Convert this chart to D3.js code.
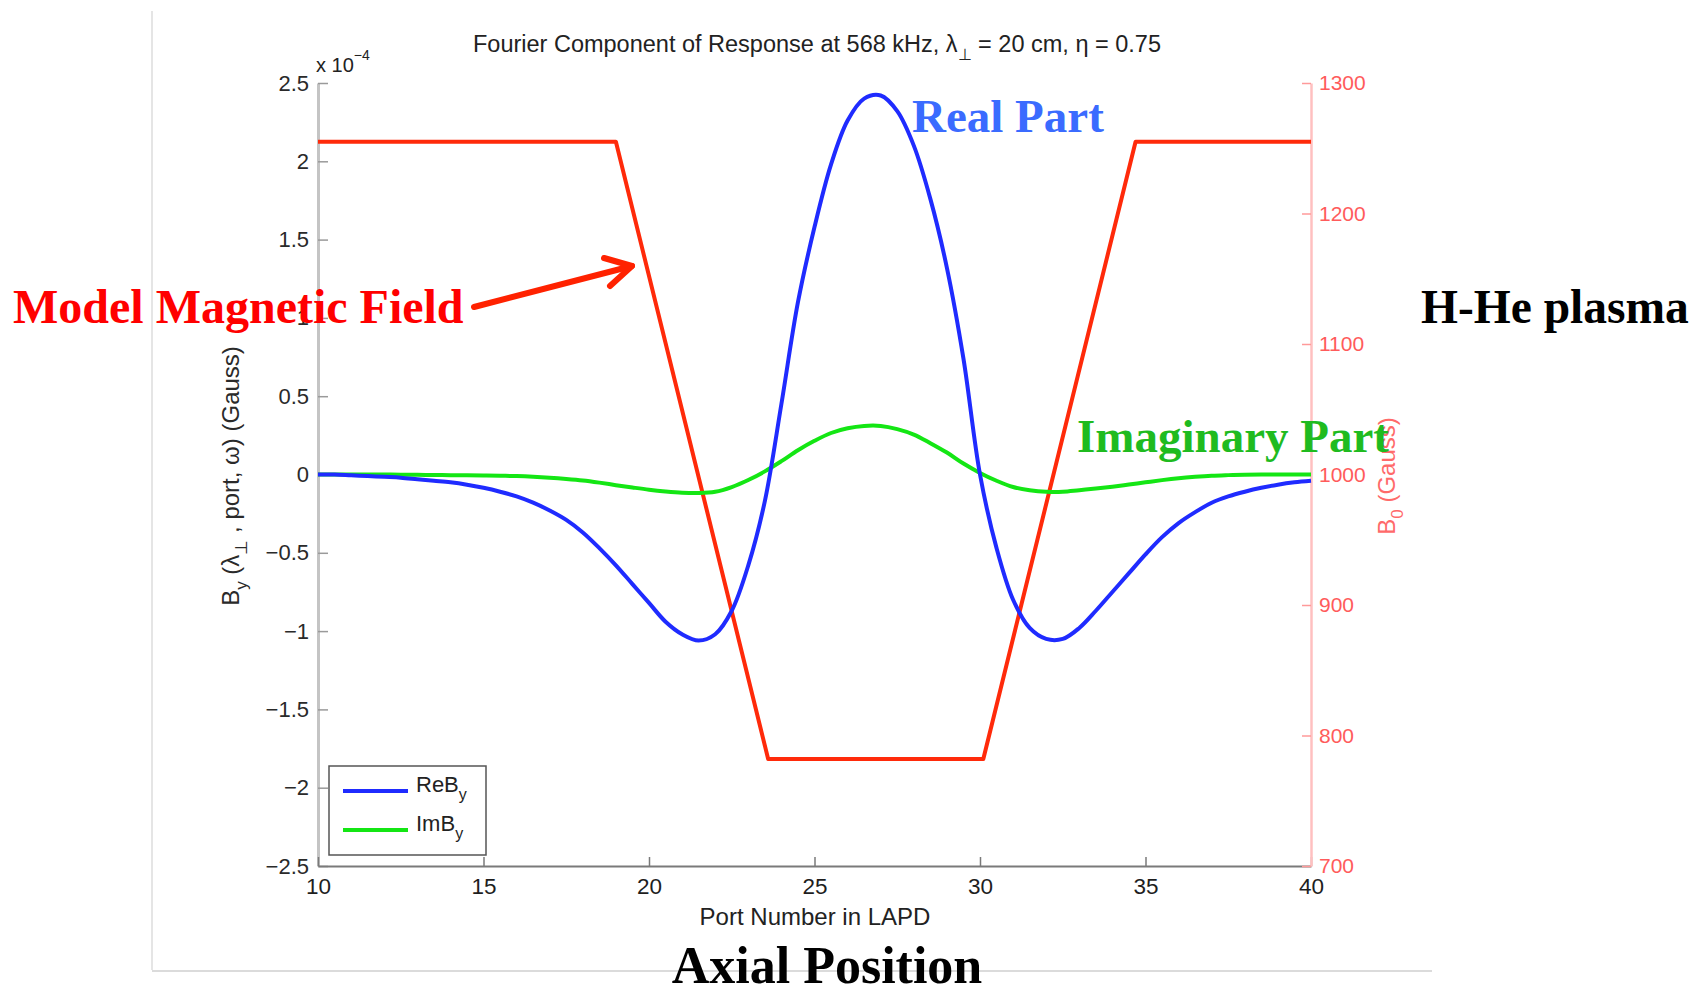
<!DOCTYPE html>
<html>
<head>
<meta charset="utf-8">
<script src="https://cdn.jsdelivr.net/npm/d3@7"></script>
<style>
  html, body { margin: 0; padding: 0; background: #fff; }
  svg { display: block; }
  .tick text { font-family: "Liberation Sans", Arial, sans-serif; }
</style>
</head>
<body>
<svg id="chart" width="1707" height="990"></svg>
<script>
// Port numbers along the LAPD machine where the response is sampled
const ports = [10, 10.5, 11, 11.5, 12, 12.5, 13, 13.5, 14, 14.5, 15, 15.5, 16, 16.5, 17, 17.5,
  18, 18.5, 19, 19.5, 20, 20.5, 21, 21.5, 22, 22.5, 23, 23.5, 24, 24.5, 25, 25.5, 26, 26.5,
  27, 27.5, 28, 28.5, 29, 29.5, 30, 30.5, 31, 31.5, 32, 32.5, 33, 33.5, 34, 34.5, 35, 35.5,
  36, 36.5, 37, 37.5, 38, 38.5, 39, 39.5, 40];

// Real part of B_y (units of 1e-4 Gauss)
const reBy = [0.00, 0.00, -0.005, -0.01, -0.015, -0.02, -0.03, -0.04, -0.05, -0.065, -0.085, -0.11,
  -0.14, -0.18, -0.23, -0.29, -0.37, -0.47, -0.58, -0.70, -0.82, -0.94, -1.02, -1.06, -1.02, -0.87,
  -0.58, -0.17, 0.45, 1.10, 1.58, 1.98, 2.26, 2.40, 2.42, 2.32, 2.10, 1.76, 1.32, 0.74, 0.00,
  -0.47, -0.80, -0.98, -1.05, -1.05, -0.98, -0.87, -0.75, -0.63, -0.51, -0.40, -0.31, -0.24,
  -0.18, -0.14, -0.11, -0.085, -0.065, -0.05, -0.04];

// Imaginary part of B_y (units of 1e-4 Gauss)
const imBy = [0.00, 0.00, 0.00, 0.00, 0.00, -0.001, -0.002, -0.003, -0.004, -0.005, -0.006, -0.008,
  -0.010, -0.014, -0.02, -0.028, -0.038, -0.052, -0.068, -0.083, -0.097, -0.108, -0.116, -0.118,
  -0.11, -0.08, -0.035, 0.02, 0.085, 0.155, 0.215, 0.265, 0.295, 0.31, 0.31, 0.29, 0.255, 0.20,
  0.14, 0.07, 0.01, -0.04, -0.08, -0.10, -0.11, -0.11, -0.10, -0.09, -0.078, -0.064, -0.05, -0.036,
  -0.024, -0.015, -0.008, -0.004, -0.001, 0.00, 0.00, 0.00, 0.00];

// Model background field B0 (Gauss): flat, ramp down, flat, ramp up, flat
const fieldPorts = [10, 19, 23.6, 30.1, 34.7, 40];
const fieldGauss = [1255, 1255, 782, 782, 1255, 1255];

// Axis ticks
const xTicks = [10, 15, 20, 25, 30, 35, 40];
const yTicks = [-2.5, -2, -1.5, -1, -0.5, 0, 0.5, 1, 1.5, 2, 2.5];
const y2Ticks = [700, 800, 900, 1000, 1100, 1200, 1300];

const svg = d3.select("#chart");
const L = 318, R = 1311, T = 83, B = 866;

const x = d3.scaleLinear().domain([10, 40]).range([L, R]);
const y = d3.scaleLinear().domain([-2.5, 2.5]).range([B, T]);
const y2 = d3.scaleLinear().domain([700, 1300]).range([B, T]);

const sans = '"Liberation Sans", Arial, Helvetica, sans-serif';
const serif = '"Liberation Serif", "Times New Roman", serif';

// Page frame lines
svg.append("line").attr("x1", 152).attr("x2", 152).attr("y1", 11).attr("y2", 970)
  .attr("stroke", "#dcdcdc").attr("stroke-width", 1.5);
svg.append("line").attr("x1", 152).attr("x2", 1432).attr("y1", 971).attr("y2", 971)
  .attr("stroke", "#cfcfcf").attr("stroke-width", 1.5);

// Left axis (B_y)
const gy = svg.append("g").attr("transform", `translate(${L},0)`)
  .call(d3.axisLeft(y).tickValues(yTicks).tickSizeInner(-10).tickSizeOuter(0).tickPadding(9)
    .tickFormat(d => d === 0 ? "0" : (d < 0 ? "\u2212" + Math.abs(d) : String(d))));
gy.select(".domain").attr("stroke", "#c4c4c4").attr("stroke-width", 3);
gy.selectAll(".tick line").attr("stroke", "#9a9a9a").attr("stroke-width", 1.5);
gy.selectAll(".tick text").attr("font-size", 22).attr("fill", "#2a2a2a");

// Bottom axis (port number)
const gx = svg.append("g").attr("transform", `translate(0,${B})`)
  .call(d3.axisBottom(x).tickValues(xTicks).tickSizeInner(-9).tickSizeOuter(0).tickPadding(12));
gx.select(".domain").attr("stroke", "#7a7a7a").attr("stroke-width", 2);
gx.selectAll(".tick line").attr("stroke", "#7a7a7a").attr("stroke-width", 1.5);
gx.selectAll(".tick text").attr("font-size", 22.5).attr("fill", "#1e1e1e");

// Right axis (B0)
const gy2 = svg.append("g").attr("transform", `translate(${R},0)`)
  .call(d3.axisRight(y2).tickValues(y2Ticks).tickSizeInner(-9).tickSizeOuter(0).tickPadding(8)
    .tickFormat(d3.format("d")));
gy2.select(".domain").attr("stroke", "#ffc0c0").attr("stroke-width", 2.5);
gy2.selectAll(".tick line").attr("stroke", "#ff9a9a").attr("stroke-width", 1.5);
gy2.selectAll(".tick text").attr("font-size", 21).attr("fill", "#ff5b5b");

// Exponent label above the left axis
const expo = svg.append("text").attr("x", 316).attr("y", 72)
  .attr("font-family", sans).attr("font-size", 20).attr("fill", "#222");
expo.append("tspan").text("x 10");
expo.append("tspan").attr("dy", -12).attr("font-size", 14).text("\u22124");

// Title
const title = svg.append("text").attr("x", 817).attr("y", 52).attr("text-anchor", "middle")
  .attr("font-family", sans).attr("font-size", 23.5).attr("fill", "#222");
title.append("tspan").text("Fourier Component of Response at 568 kHz, \u03bb");
title.append("tspan").attr("dy", 8).attr("font-size", 16).text("\u22a5");
title.append("tspan").attr("dy", -8).text(" = 20 cm, \u03b7 = 0.75");

// Axis titles
svg.append("text").attr("x", 815).attr("y", 925).attr("text-anchor", "middle")
  .attr("font-family", sans).attr("font-size", 24).attr("fill", "#222")
  .text("Port Number in LAPD");

const ylab = svg.append("text").attr("transform", "translate(239,476) rotate(-90)")
  .attr("text-anchor", "middle").attr("font-family", sans).attr("font-size", 24).attr("fill", "#2a2a2a");
ylab.append("tspan").text("B");
ylab.append("tspan").attr("dy", 8).attr("font-size", 17).text("y");
ylab.append("tspan").attr("dy", -8).text(" (\u03bb");
ylab.append("tspan").attr("dy", 8).attr("font-size", 17).text("\u22a5");
ylab.append("tspan").attr("dy", -8).text(" , port, \u03c9) (Gauss)");

const y2lab = svg.append("text").attr("transform", "translate(1395,476) rotate(-90)")
  .attr("text-anchor", "middle").attr("font-family", sans).attr("font-size", 24).attr("fill", "#ff6a6a");
y2lab.append("tspan").text("B");
y2lab.append("tspan").attr("dy", 8).attr("font-size", 17).text("0");
y2lab.append("tspan").attr("dy", -8).text(" (Gauss)");

// Curves
const reLine = d3.line().x((d, i) => x(ports[i])).y(d => y(d)).curve(d3.curveCatmullRom.alpha(0.5));
const b0Line = d3.line().x((d, i) => x(fieldPorts[i])).y(d => y2(d));

svg.append("path").datum(fieldGauss).attr("d", b0Line)
  .attr("fill", "none").attr("stroke", "#ff2a0a").attr("stroke-width", 4).attr("stroke-linejoin", "round");
svg.append("path").datum(imBy).attr("d", reLine)
  .attr("fill", "none").attr("stroke", "#14e614").attr("stroke-width", 4);
svg.append("path").datum(reBy).attr("d", reLine)
  .attr("fill", "none").attr("stroke", "#1f2bff").attr("stroke-width", 4);

// Legend
const lg = svg.append("g");
lg.append("rect").attr("x", 329).attr("y", 766).attr("width", 157).attr("height", 89)
  .attr("fill", "#fff").attr("stroke", "#555").attr("stroke-width", 1.5);
const legendItems = [["Re", "#1f2bff", 791], ["Im", "#14e614", 830]];
legendItems.forEach(([pre, col, ly]) => {
  lg.append("line").attr("x1", 343).attr("x2", 408).attr("y1", ly).attr("y2", ly)
    .attr("stroke", col).attr("stroke-width", 4);
  const t = lg.append("text").attr("x", 416).attr("y", ly + 1)
    .attr("font-family", sans).attr("font-size", 22).attr("fill", "#222");
  t.append("tspan").text(pre + "B");
  t.append("tspan").attr("dy", 8).attr("font-size", 16).text("y");
});

// Annotations
svg.append("text").attr("x", 912).attr("y", 132).attr("font-family", serif).attr("font-weight", "bold")
  .attr("font-size", 47).attr("fill", "#3a6bff").text("Real Part");
svg.append("text").attr("x", 1077).attr("y", 452).attr("font-family", serif).attr("font-weight", "bold")
  .attr("font-size", 47).attr("fill", "#1fbb1f").text("Imaginary Part");
svg.append("text").attr("x", 13).attr("y", 323).attr("font-family", serif).attr("font-weight", "bold")
  .attr("font-size", 48).attr("fill", "#ff0000").text("Model Magnetic Field");
svg.append("text").attr("x", 1421).attr("y", 323).attr("font-family", serif).attr("font-weight", "bold")
  .attr("font-size", 47.5).attr("fill", "#000").text("H-He plasma");
svg.append("text").attr("x", 827).attr("y", 983).attr("text-anchor", "middle").attr("font-family", serif)
  .attr("font-weight", "bold").attr("font-size", 52).attr("fill", "#000").text("Axial Position");

// Arrow pointing at the field curve
const arrow = svg.append("g").attr("stroke", "#ff2200").attr("stroke-width", 6)
  .attr("stroke-linecap", "round").attr("fill", "none");
arrow.append("line").attr("x1", 474).attr("y1", 307).attr("x2", 632).attr("y2", 266);
arrow.append("polyline").attr("points", "604,258 632,266 610,286").attr("stroke-linejoin", "round");
</script>
</body>
</html>
